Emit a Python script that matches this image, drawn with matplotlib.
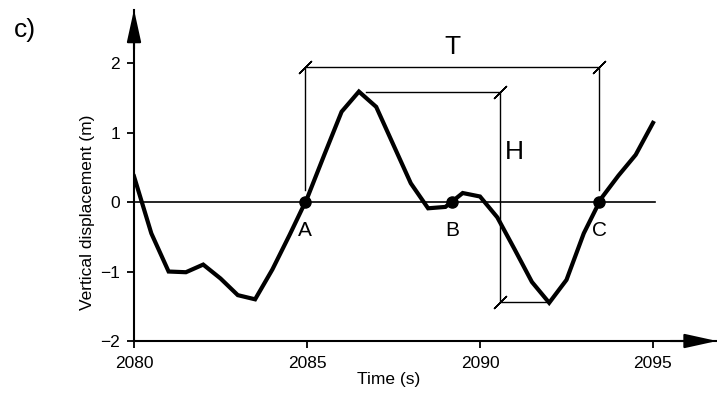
import matplotlib
matplotlib.use("Agg")
import matplotlib.pyplot as plt

plt.rcParams['font.family'] = ['Liberation Sans', 'DejaVu Sans']

# wave record, 0.5 s sampling
t = [2080.0, 2080.5, 2081.0, 2081.5, 2082.0, 2082.5, 2083.0, 2083.5, 2084.0,
     2084.5, 2085.0, 2085.5, 2086.0, 2086.5, 2087.0, 2087.5, 2088.0, 2088.5,
     2089.0, 2089.5, 2090.0, 2090.5, 2091.0, 2091.5, 2092.0, 2092.5, 2093.0,
     2093.5, 2094.0, 2094.5, 2095.0]
eta = [0.37, -0.45, -1.00, -1.01, -0.90, -1.10, -1.34, -1.40, -0.97,
       -0.47, 0.05, 0.68, 1.30, 1.59, 1.37, 0.82, 0.27, -0.09,
       -0.07, 0.13, 0.08, -0.22, -0.68, -1.15, -1.45, -1.12, -0.45,
       0.05, 0.38, 0.68, 1.14]

# zero crossings
cross_t = [2084.95, 2089.2, 2093.45]
cross_lbl = ['A', 'B', 'C']

# period and height markers
T_level = 1.94
H_x = 2090.58
H_top = 1.58
H_bot = -1.44
H_top_from = 2086.7
H_bot_to = 2091.9

xticks = [2080, 2085, 2090, 2095]
yticks = [-2, -1, 0, 1, 2]


def main():
    fig = plt.figure(figsize=(7.17, 3.95), dpi=100)
    ax = fig.add_axes([0.1869, 0.1367, 0.8131, 0.839])
    ax.set_xlim(2080, 2096.85)
    ax.set_ylim(-2, 2.77)

    for s in ['top', 'right']:
        ax.spines[s].set_visible(False)
    for s in ['left', 'bottom']:
        ax.spines[s].set_linewidth(1.5)

    # arrow heads on the axes
    arr = dict(arrowstyle='-|>,head_length=1.0,head_width=0.22', color='black',
               mutation_scale=20, shrinkA=0, shrinkB=0, lw=1.5)
    ax.annotate('', xy=(2096.85, -2), xytext=(2095.5, -2), arrowprops=arr,
                annotation_clip=False)
    ax.annotate('', xy=(2080, 2.77), xytext=(2080, 2.2), arrowprops=arr,
                annotation_clip=False)

    # zero line
    ax.plot([2080, 2095.05], [0, 0], color='black', lw=1.2)

    # T bracket
    ax.plot([cross_t[0], cross_t[0], cross_t[2], cross_t[2]],
            [0.18, T_level, T_level, 0.18], color='black', lw=1.0)
    ax.plot([cross_t[0], cross_t[2]], [T_level, T_level], ls='none',
            marker=(2, 2, -45), ms=13, mew=1.0, color='black')
    ax.text((cross_t[0] + cross_t[2]) / 2, T_level + 0.12, 'T', fontsize=19,
            ha='center', va='bottom')

    # H bracket
    ax.plot([H_top_from, H_x, H_x, H_bot_to], [H_top, H_top, H_bot, H_bot],
            color='black', lw=1.0)
    ax.plot([H_x, H_x], [H_top, H_bot], ls='none', marker=(2, 2, -45), ms=13,
            mew=1.0, color='black')
    ax.text(H_x + 0.15, (H_top + H_bot) / 2 + 0.65, 'H', fontsize=19,
            ha='left', va='center')

    # the wave record
    ax.plot(t, eta, color='black', lw=3.0, solid_joinstyle='miter', zorder=3)

    ax.plot(cross_t, [0, 0, 0], 'o', color='black', ms=8, zorder=4)
    for xc, lb in zip(cross_t, cross_lbl):
        ax.text(xc, -0.27, lb, fontsize=15, ha='center', va='top')

    ax.set_xticks(xticks)
    ax.set_yticks(yticks)
    ax.tick_params(direction='out', length=5, width=1.3, labelsize=12.5)
    ax.tick_params(axis='x', pad=6)
    ax.tick_params(axis='y', pad=5)

    ax.set_xlabel('Time (s)', fontsize=12.5)
    ax.xaxis.set_label_coords(0.436, -0.095)
    ax.set_ylabel('Vertical displacement (m)', fontsize=12.5)
    ax.yaxis.set_label_coords(-0.067, 0.389)

    fig.text(0.02, 0.955, 'c)', fontsize=19, ha='left', va='top')

    fig.savefig('out.png', dpi=100)


if __name__ == "__main__":
    main()
